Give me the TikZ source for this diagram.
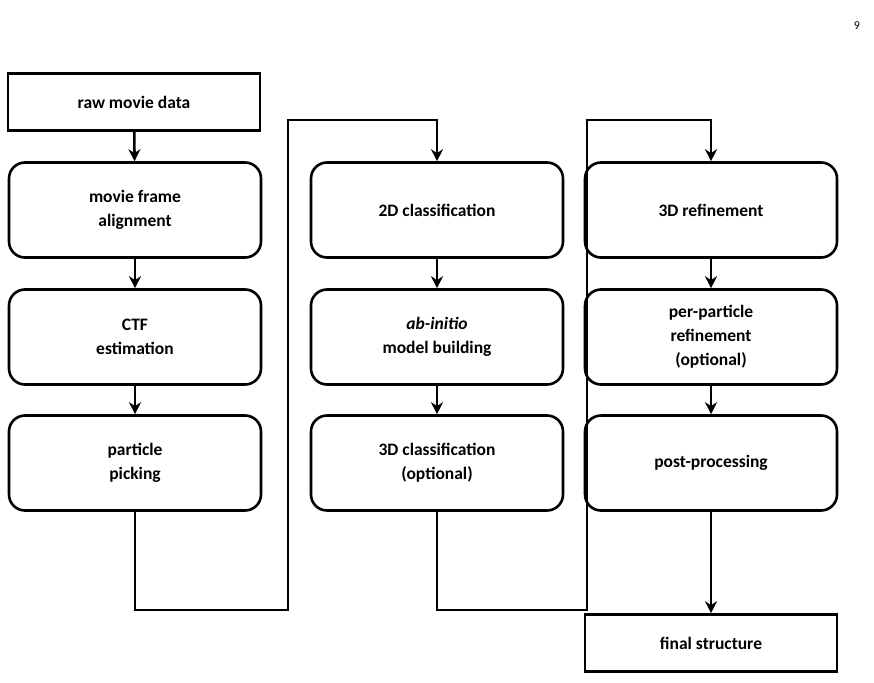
\documentclass[tikz,border=0pt]{standalone}
\usepackage{fontspec}
\setmainfont{Carlito}
\usepackage{tikz}
\usetikzlibrary{arrows.meta}
\tikzset{
  stage/.style={draw, line width=2.6pt, rounded corners=16pt, minimum width=252pt, minimum height=95pt, align=center, font=\bfseries\fontsize{17.5}{24}\selectfont},
  plain/.style={draw, line width=2.6pt, minimum width=252pt, minimum height=57pt, align=center, font=\bfseries\fontsize{17.5}{24}\selectfont},
  flow/.style={line width=2.6pt, -{Stealth[length=12pt,width=12pt]}}
}
\begin{document}
\begin{tikzpicture}[x=1pt,y=-1pt]
    \useasboundingbox (0,0) rectangle (874,682);
    \node at (857,26) {\fontsize{12}{14}\selectfont 9};
    % column 1
    \node[plain] (raw) at (134,102) {raw movie data};
    \node[stage] (align) at (135,210) {movie frame\\alignment};
    \node[stage] (ctf) at (135,337) {CTF\\estimation};
    \node[stage] (pick) at (135,463) {particle\\picking};
    % column 2
    \node[stage] (class2d) at (437,210) {2D classification};
    \node[stage] (abinit) at (437,337) {\textit{ab-initio}\\model building};
    \node[stage] (class3d) at (437,463) {3D classification\\(optional)};
    % column 3
    \node[stage] (refine) at (711,210) {3D refinement};
    \node[stage] (perpart) at (711,337) {per-particle\\refinement\\(optional)};
    \node[stage] (post) at (711,463) {post-processing};
    \node[plain] (final) at (711,643) {final structure};
    % connectors
    \draw[flow] (raw) -- (align);
    \draw[flow] (align) -- (ctf);
    \draw[flow] (ctf) -- (pick);
    \draw[flow] (pick.south) |- (288,610) |- (437,120) -- (class2d.north);
    \draw[flow] (class2d) -- (abinit);
    \draw[flow] (abinit) -- (class3d);
    \draw[flow] (class3d.south) |- (587,610) |- (711,120) -- (refine.north);
    \draw[flow] (refine) -- (perpart);
    \draw[flow] (perpart) -- (post);
    \draw[flow] (post) -- (final);
\end{tikzpicture}
\end{document}
